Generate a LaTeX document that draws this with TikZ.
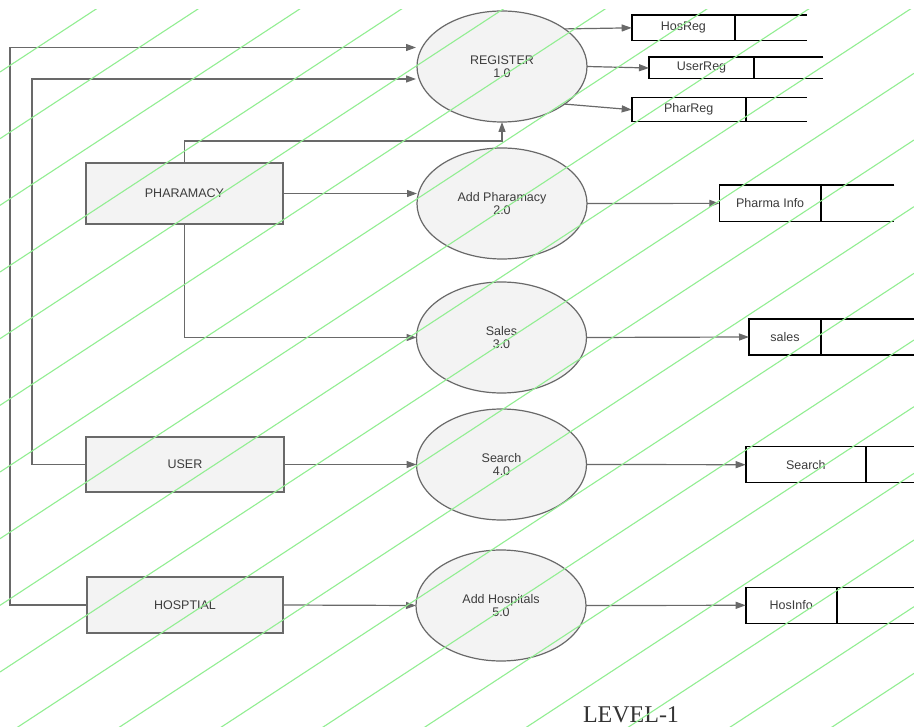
\documentclass[tikz,border=0pt]{standalone}
\usepackage{fontspec}
\setmainfont{Liberation Sans}
\newfontfamily\levelfont{Liberation Serif}
\usetikzlibrary{arrows.meta,shapes.geometric}
\definecolor{edgegrey}{RGB}{105,105,105}
\definecolor{txtgrey}{RGB}{60,60,60}
\definecolor{hatchgreen}{RGB}{146,238,146}
\definecolor{shapefill}{RGB}{243,243,243}
\begin{document}
\begin{tikzpicture}[x=1pt,y=-1pt,
  every node/.style={inner sep=0pt,outer sep=0pt},
  lbl/.style={font=\fontsize{12.5}{13}\selectfont,text=txtgrey,align=center},
  proc/.style={ellipse,draw=edgegrey,line width=1.2pt,minimum width=170pt,minimum height=111pt,
    fill=shapefill,lbl},
  ent/.style={rectangle,draw=edgegrey,line width=1.2pt,fill=shapefill,lbl},
  flow/.style={draw=edgegrey,line width=1.2pt,-{Triangle[length=10pt,width=7pt]}},
  slabel/.style={rectangle,anchor=north west,lbl},
  store/.style={draw=black,line width=1.6pt},
  hatch/.style={draw=hatchgreen,line width=1.1pt}
]
\useasboundingbox (0,0) rectangle (914,727);
\fill[white] (0,0) rectangle (914,727);

% processes
\node[proc] (p1) at (502,66.5) {REGISTER\\1.0};
\node[proc] (p2) at (502,203.5) {Add Pharamacy\\2.0};
\node[proc] (p3) at (501.5,337.5) {Sales\\3.0};
\node[proc] (p4) at (501.5,464.5) {Search\\4.0};
\node[proc] (p5) at (501,605.5) {Add Hospitals\\5.0};

% external entities
\node[ent,minimum width=197pt,minimum height=61pt] (pharm) at (184.5,193.5) {PHARAMACY};
\node[ent,minimum width=198pt,minimum height=55pt] (user) at (185,464.5) {USER};
\node[ent,minimum width=196pt,minimum height=56pt] (hosp) at (185,605) {HOSPTIAL};

% data stores
\node[slabel,minimum width=103.3pt,minimum height=25.7pt] (s1) at (631.7,15) {HosReg};
\node[slabel,minimum width=105pt,minimum height=21.4pt] (s2) at (649,57.3) {UserReg};
\node[slabel,minimum width=114pt,minimum height=24pt] (s3) at (631.7,97.7) {PharReg};
\node[slabel,minimum width=101.7pt,minimum height=36.7pt] (s4) at (719.3,185) {Pharma Info};
\node[slabel,minimum width=72pt,minimum height=36pt] (s5) at (749,319) {sales};
\node[slabel,minimum width=120.3pt,minimum height=36pt] (s6) at (745.7,446.7) {Search};
\node[slabel,minimum width=91pt,minimum height=36pt] (s7) at (745.7,587.3) {HosInfo};

\draw[store] (s1.north east) ++(71.7,0) -- (s1.north west) -- (s1.south west) -- ++(175,0);
\draw[store] (s1.north east) -- (s1.south east);
\draw[store] (s2.north east) ++(69.3,0) -- (s2.north west) -- (s2.south west) -- ++(174.3,0);
\draw[store] (s2.north east) -- (s2.south east);
\draw[store] (s3.north east) ++(61,0) -- (s3.north west) -- (s3.south west) -- ++(175,0);
\draw[store] (s3.north east) -- (s3.south east);
\draw[store] (s4.north east) ++(73.3,0) -- (s4.north west) -- (s4.south west) -- ++(175,0);
\draw[store] (s4.north east) -- (s4.south east);
\draw[store] (s5.north east) ++(95,0) -- (s5.north west) -- (s5.south west) -- ++(167,0);
\draw[store] (s5.north east) -- (s5.south east);
\draw[store] (s6.north east) ++(50,0) -- (s6.north west) -- (s6.south west) -- ++(170.3,0);
\draw[store] (s6.north east) -- (s6.south east);
\draw[store] (s7.north east) ++(79,0) -- (s7.north west) -- (s7.south west) -- ++(170.3,0);
\draw[store] (s7.north east) -- (s7.south east);

% flows into REGISTER
\coordinate (r1in) at (416,47.5);
\coordinate (r2in) at (416,79);
\draw[flow] (hosp.west) -- ++(-77,0) |- (r1in);
\draw[flow] (user.west) -- ++(-54,0) |- (r2in);
\draw[flow] (pharm.north) -- ++(0,-22) -| (p1.south);

% entity flows
\draw[flow] (pharm.east) -- (pharm.east -| p2.west);
\draw[flow] (pharm.south) |- (p3.west);
\draw[flow] (user.east) -- (p4.west);
\draw[flow] (hosp.east) -- (p5.west);

% process to store flows
\draw[flow] (p1.31) -- (s1.west);
\draw[flow] (p1.east) -- (s2.west);
\draw[flow] (p1.-31) -- (s3.west);
\draw[flow] (p2.east) -- (s4.west);
\draw[flow] (p3.east) -- (s5.west);
\draw[flow] (p4.east) -- (s6.west);
\draw[flow] (p5.east) -- (s7.west);

\node[anchor=base,font=\levelfont\fontsize{24}{26}\selectfont,text=black!80] (lvl) at (631,722.5) {LEVEL-1};

% background hatching (drawn over everything, as in the reference)
\begin{scope}
\clip (0,9.5) rectangle (914,727);
\foreach \k in {0,...,19} {
  \draw[hatch] (0,{72+66.67*\k}) -- (914,{72+66.67*\k-598.7});
}
\end{scope}
\end{tikzpicture}
\end{document}
